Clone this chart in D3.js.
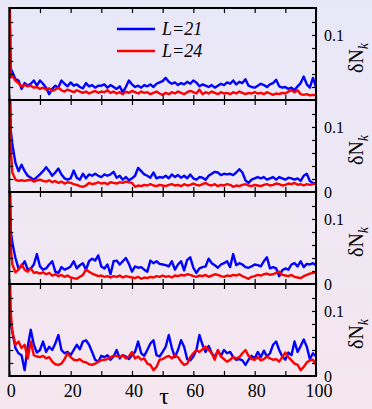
<!DOCTYPE html>
<html><head><meta charset="utf-8">
<script src="https://cdn.jsdelivr.net/npm/d3@7/dist/d3.min.js"></script>
<style>html,body{margin:0;padding:0;overflow:hidden;}</style>
</head><body>
<svg id="c" width="372" height="409" xmlns="http://www.w3.org/2000/svg"></svg>
<script>
// time grid
const tau = [0,0.5,1,2,3,4,5,6,7,8,9,10,11,12,13,14,15,16,17,18,19,20,21,22,23,24,25,26,27,28,29,30,31,32,33,34,35,36,37,38,39,40,41,42,43,44,45,46,47,48,49,50,51,52,53,54,55,56,57,58,59,60,61,62,63,64,65,66,67,68,69,70,71,72,73,74,75,76,77,78,79,80,81,82,83,84,85,86,87,88,89,90,91,92,93,94,95,96,97,98,99,100];

// panel 1
const blue1 = [0.150,0.048,0.043,0.032,0.030,0.017,0.026,0.022,0.025,0.030,0.022,
 0.030,0.025,0.019,0.009,0.017,0.022,0.019,0.030,0.025,0.021,
 0.027,0.022,0.024,0.020,0.018,0.026,0.021,0.023,0.019,0.022,
 0.022,0.024,0.019,0.023,0.020,0.017,0.021,0.012,0.020,0.030,
 0.024,0.020,0.022,0.019,0.023,0.021,0.024,0.020,0.025,0.027,
 0.029,0.034,0.028,0.025,0.027,0.023,0.026,0.024,0.028,0.025,
 0.030,0.027,0.021,0.024,0.022,0.020,0.023,0.019,0.022,0.025,
 0.023,0.027,0.025,0.030,0.024,0.028,0.026,0.032,0.022,0.020,
 0.019,0.022,0.025,0.023,0.020,0.024,0.026,0.031,0.021,0.019,
 0.020,0.017,0.019,0.015,0.021,0.026,0.036,0.024,0.019,0.034,
 0.020];
const red1 = [0.200,0.035,0.037,0.030,0.026,0.021,0.023,0.021,0.022,0.019,0.020,
 0.017,0.019,0.016,0.018,0.014,0.016,0.019,0.015,0.013,0.016,
 0.014,0.012,0.015,0.013,0.011,0.013,0.010,0.012,0.014,0.011,
 0.013,0.012,0.015,0.011,0.013,0.010,0.012,0.009,0.013,0.011,
 0.014,0.012,0.010,0.013,0.011,0.012,0.009,0.011,0.013,0.010,
 0.008,0.011,0.009,0.012,0.010,0.013,0.011,0.009,0.012,0.014,
 0.012,0.010,0.016,0.009,0.012,0.010,0.013,0.011,0.009,0.012,
 0.010,0.011,0.009,0.012,0.010,0.013,0.011,0.009,0.011,0.010,
 0.012,0.010,0.011,0.009,0.012,0.010,0.008,0.010,0.009,0.011,
 0.010,0.013,0.015,0.012,0.015,0.009,0.008,0.009,0.007,0.008,
 0.007];

// panel 2
const blue2 = [0.200,0.094,0.073,0.045,0.032,0.042,0.032,0.025,0.022,0.019,0.023,
 0.027,0.032,0.038,0.032,0.025,0.030,0.036,0.027,0.021,0.019,
 0.021,0.033,0.022,0.019,0.028,0.021,0.027,0.025,0.028,0.025,
 0.023,0.027,0.025,0.027,0.031,0.022,0.025,0.019,0.023,0.018,
 0.021,0.025,0.037,0.032,0.027,0.025,0.022,0.030,0.021,0.023,
 0.022,0.025,0.021,0.027,0.023,0.026,0.022,0.025,0.021,0.027,
 0.021,0.019,0.023,0.022,0.019,0.025,0.028,0.031,0.030,0.026,
 0.028,0.027,0.028,0.026,0.030,0.035,0.030,0.018,0.014,0.019,
 0.021,0.023,0.021,0.023,0.019,0.021,0.023,0.019,0.023,0.021,
 0.019,0.022,0.021,0.019,0.021,0.017,0.025,0.028,0.017,0.014,
 0.013];
const red2 = [0.200,0.063,0.030,0.019,0.017,0.018,0.017,0.018,0.019,0.016,0.018,
 0.019,0.017,0.016,0.018,0.015,0.017,0.014,0.016,0.013,0.015,
 0.014,0.012,0.011,0.009,0.008,0.010,0.014,0.012,0.013,0.015,
 0.013,0.014,0.012,0.015,0.014,0.013,0.015,0.014,0.016,0.015,
 0.014,0.008,0.010,0.009,0.011,0.010,0.012,0.010,0.009,0.011,
 0.010,0.009,0.011,0.012,0.010,0.011,0.009,0.012,0.010,0.011,
 0.013,0.011,0.010,0.012,0.014,0.011,0.010,0.012,0.009,0.011,
 0.010,0.012,0.011,0.008,0.010,0.009,0.011,0.012,0.010,0.009,
 0.011,0.010,0.009,0.011,0.012,0.010,0.011,0.013,0.012,0.010,
 0.011,0.013,0.012,0.014,0.011,0.012,0.010,0.012,0.011,0.012,
 0.013];

// panel 3
const blue3 = [0.200,0.081,0.063,0.040,0.024,0.027,0.035,0.022,0.024,0.030,0.046,
 0.027,0.022,0.024,0.030,0.035,0.019,0.017,0.026,0.022,0.024,
 0.027,0.035,0.024,0.029,0.032,0.022,0.035,0.039,0.036,0.044,
 0.027,0.024,0.030,0.015,0.035,0.036,0.030,0.035,0.040,0.031,
 0.019,0.027,0.025,0.026,0.022,0.019,0.036,0.032,0.035,0.031,
 0.030,0.029,0.027,0.035,0.022,0.030,0.035,0.021,0.037,0.041,
 0.025,0.017,0.024,0.026,0.027,0.039,0.032,0.029,0.025,0.030,
 0.032,0.035,0.026,0.046,0.029,0.032,0.030,0.026,0.025,0.027,
 0.030,0.029,0.027,0.035,0.041,0.024,0.026,0.024,0.012,0.021,
 0.024,0.022,0.030,0.032,0.027,0.035,0.026,0.031,0.030,0.032,
 0.029];
const red3 = [0.200,0.055,0.030,0.018,0.022,0.030,0.022,0.019,0.024,0.017,0.018,
 0.016,0.018,0.015,0.017,0.013,0.015,0.012,0.014,0.011,0.013,
 0.010,0.009,0.008,0.011,0.014,0.022,0.019,0.016,0.014,0.012,
 0.013,0.011,0.012,0.010,0.012,0.011,0.013,0.010,0.012,0.011,
 0.010,0.009,0.011,0.008,0.010,0.009,0.011,0.010,0.012,0.011,
 0.013,0.011,0.012,0.010,0.013,0.012,0.014,0.013,0.015,0.014,
 0.012,0.011,0.013,0.012,0.014,0.011,0.013,0.015,0.014,0.012,
 0.011,0.013,0.012,0.014,0.013,0.015,0.012,0.010,0.008,0.011,
 0.012,0.014,0.013,0.015,0.016,0.014,0.015,0.017,0.019,0.014,
 0.013,0.012,0.014,0.011,0.010,0.009,0.012,0.014,0.016,0.017,
 0.018];

// panel 4
const blue4 = [0.107,0.081,0.068,0.043,0.035,0.032,0.009,0.045,0.071,0.048,0.036,
 0.040,0.053,0.037,0.045,0.040,0.050,0.063,0.040,0.035,0.037,
 0.032,0.040,0.048,0.041,0.053,0.055,0.048,0.037,0.025,0.022,
 0.031,0.029,0.032,0.025,0.030,0.040,0.027,0.032,0.030,0.026,
 0.032,0.037,0.053,0.035,0.031,0.040,0.050,0.055,0.032,0.030,
 0.037,0.045,0.063,0.043,0.029,0.040,0.055,0.045,0.026,0.024,
 0.030,0.040,0.063,0.048,0.037,0.046,0.035,0.029,0.039,0.031,
 0.040,0.035,0.037,0.029,0.025,0.026,0.024,0.017,0.025,0.031,
 0.027,0.037,0.029,0.039,0.030,0.035,0.048,0.053,0.040,0.030,
 0.025,0.036,0.032,0.053,0.037,0.046,0.056,0.045,0.026,0.035,
 0.030];
const red4 = [0.200,0.096,0.068,0.048,0.053,0.043,0.048,0.027,0.053,0.032,0.030,
 0.029,0.031,0.027,0.029,0.022,0.018,0.017,0.019,0.026,0.035,
 0.029,0.025,0.024,0.026,0.022,0.021,0.018,0.017,0.019,0.022,
 0.024,0.025,0.026,0.029,0.031,0.031,0.029,0.032,0.027,0.030,
 0.037,0.027,0.030,0.025,0.027,0.019,0.017,0.009,0.014,0.025,
 0.026,0.029,0.031,0.027,0.032,0.029,0.022,0.017,0.019,0.029,
 0.035,0.040,0.037,0.041,0.045,0.040,0.035,0.025,0.040,0.030,
 0.026,0.022,0.025,0.029,0.027,0.029,0.035,0.040,0.031,0.026,
 0.025,0.029,0.024,0.026,0.030,0.027,0.025,0.026,0.022,0.029,
 0.036,0.029,0.024,0.019,0.017,0.009,0.014,0.021,0.024,0.025,
 0.017];

const seriesLabels = ["L=21", "L=24"];
const seriesColors = ["#0000ff", "#ff0000"];
const panelData = [[blue1, red1], [blue2, red2], [blue3, red3], [blue4, red4]];
const xTickLabels = [0, 20, 40, 60, 80, 100];
const xTickAll = [0,10,20,30,40,50,60,70,80,90,100];
const yTickAll = [0.02,0.04,0.06,0.08,0.1,0.12];
const yLabelVals = [0.1];

const svg = d3.select("#c");
const W = 372, H = 409;
const defs = svg.append("defs");
const grad = defs.append("linearGradient").attr("id","bg").attr("x1",0).attr("y1",0).attr("x2",0).attr("y2",1);
grad.append("stop").attr("offset","0%").attr("stop-color","#e8e7f8");
grad.append("stop").attr("offset","50%").attr("stop-color","#efe8f4");
grad.append("stop").attr("offset","100%").attr("stop-color","#f6e6ee");
svg.append("rect").attr("width",W).attr("height",H).attr("fill","url(#bg)");

const left = 9.3, right = 316, top0 = 8, ph = 92;
const x = d3.scaleLinear().domain([0,100]).range([left,right]);

panelData.forEach((pair, i) => {
  const t = top0 + i*ph, b = t + ph;
  const y = d3.scaleLinear().domain([0, 0.1415]).range([b, t]);
  const g = svg.append("g");
  defs.append("clipPath").attr("id","cp"+i).append("rect")
    .attr("x",left).attr("y",t).attr("width",right-left).attr("height",ph);
  const line = d3.line().x((d,j)=>x(tau[j])).y(d=>y(d));
  pair.forEach((vals, k) => {
    g.append("path").datum(vals).attr("d", line)
      .attr("fill","none").attr("stroke",seriesColors[k]).attr("stroke-width",2.4)
      .attr("stroke-linejoin","round").attr("clip-path","url(#cp"+i+")");
  });
  const tickStyle = s => s.attr("stroke","#000").attr("stroke-width",1.2);
  g.append("g").attr("transform",`translate(0,${b})`)
    .call(d3.axisBottom(x).tickValues(xTickAll).tickSize(-5).tickFormat(""))
    .call(a=>{a.select(".domain").remove(); tickStyle(a.selectAll("line"));});
  g.append("g").attr("transform",`translate(0,${t})`)
    .call(d3.axisTop(x).tickValues(xTickAll).tickSize(-5).tickFormat(""))
    .call(a=>{a.select(".domain").remove(); tickStyle(a.selectAll("line"));});
  g.append("g").attr("transform",`translate(${left},0)`)
    .call(d3.axisLeft(y).tickValues(yTickAll).tickSize(-4).tickFormat(""))
    .call(a=>{a.select(".domain").remove(); tickStyle(a.selectAll("line"));});
  g.append("g").attr("transform",`translate(${right},0)`)
    .call(d3.axisRight(y).tickValues(yTickAll).tickSize(-4).tickFormat(""))
    .call(a=>{a.select(".domain").remove(); tickStyle(a.selectAll("line"));});
  g.append("rect").attr("x",left).attr("y",t).attr("width",right-left).attr("height",ph)
    .attr("fill","none").attr("stroke","#000").attr("stroke-width",2);
  yLabelVals.forEach(v => {
    g.append("text").attr("x",324).attr("y",y(v)).attr("dy","0.35em")
      .attr("font-family","'Liberation Serif', 'Times New Roman', serif").attr("font-size",16)
      .text(d3.format(".1f")(v));
  });
  if (i > 0) {
    g.append("text").attr("x",324).attr("y",b).attr("dy","0.35em")
      .attr("font-family","'Liberation Serif', serif").attr("font-size",16).text("0");
  }
  const yt = g.append("text").attr("transform",`translate(363,${t+ph/2+4}) rotate(-90)`)
    .attr("text-anchor","middle").attr("font-family","'Liberation Serif', serif").attr("font-size",20);
  yt.append("tspan").text("δN");
  yt.append("tspan").attr("font-style","italic").attr("font-size",14).attr("dy",5).text("k");
});

svg.append("g").selectAll("text").data(xTickLabels).join("text")
  .attr("x", d=>x(d)+ (d===100?3:2)).attr("y",397).attr("text-anchor","middle")
  .attr("font-family","'Liberation Serif', serif").attr("font-size",18).text(d=>d);
svg.append("text").attr("x",164).attr("y",404).attr("text-anchor","middle")
  .attr("font-family","'Liberation Serif', serif").attr("font-size",24).text("τ");

seriesLabels.forEach((s,k) => {
  const ly = 29 + k*22;
  svg.append("line").attr("x1",117).attr("x2",155).attr("y1",ly).attr("y2",ly)
    .attr("stroke",seriesColors[k]).attr("stroke-width",2.4);
  svg.append("text").attr("x",162).attr("y",ly+6)
    .attr("font-family","'Liberation Serif', serif").attr("font-style","italic").attr("font-size",18).text(s);
});
</script>
</body></html>
